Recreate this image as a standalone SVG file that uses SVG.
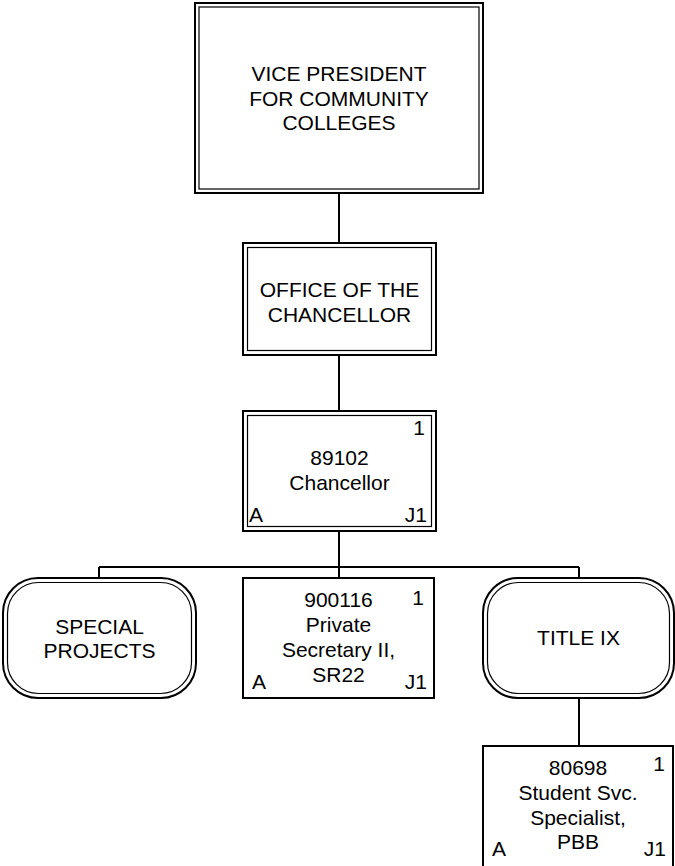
<svg xmlns="http://www.w3.org/2000/svg" width="675" height="866" viewBox="0 0 675 866">
<style>
.o{fill:none;stroke:#000;stroke-width:2}
.i{fill:none;stroke:#000;stroke-width:1.2}
.c{fill:none;stroke:#000;stroke-width:2}
text{font-family:"Liberation Sans",Arial,sans-serif;font-size:21px;fill:#000}
.m{text-anchor:middle}
.e{text-anchor:end}
</style>
<rect width="675" height="866" fill="#fff"/>
<g id="connectors">
<path class="c" d="M339,193V243M339,355V411M339,531V567M99,567H579M99,567V578M339,567V578M579,567V578M579,698V746"/>
</g>
<g id="vp">
<rect class="o" x="195" y="3" width="288" height="190"/>
<rect class="i" x="199" y="7" width="280" height="182"/>
<text class="m" x="339" y="81">VICE PRESIDENT</text>
<text class="m" x="339" y="105.5">FOR COMMUNITY</text>
<text class="m" x="339" y="130">COLLEGES</text>
</g>
<g id="office">
<rect class="o" x="243" y="243" width="193" height="112"/>
<rect class="i" x="247.5" y="247.5" width="184" height="103"/>
<text class="m" x="339.5" y="297">OFFICE OF THE</text>
<text class="m" x="339.5" y="322">CHANCELLOR</text>
</g>
<g id="chancellor">
<rect class="o" x="243" y="411" width="193" height="120"/>
<rect class="i" x="247.5" y="415.5" width="184" height="111"/>
<text class="e" x="425" y="435">1</text>
<text class="m" x="339.5" y="465">89102</text>
<text class="m" x="339.5" y="490">Chancellor</text>
<text x="249" y="522">A</text>
<text class="e" x="427" y="522">J1</text>
</g>
<g id="special">
<rect class="o" x="3" y="578" width="193" height="120" rx="35"/>
<rect class="i" x="7.5" y="582.5" width="184" height="111" rx="31"/>
<text class="m" x="99.5" y="634">SPECIAL</text>
<text class="m" x="99.5" y="658">PROJECTS</text>
</g>
<g id="secretary">
<rect class="o" x="243" y="578" width="191" height="120"/>
<text class="e" x="424" y="605">1</text>
<text class="m" x="338.5" y="607">900116</text>
<text class="m" x="338.5" y="632">Private</text>
<text class="m" x="338.5" y="657">Secretary II,</text>
<text class="m" x="338.5" y="682">SR22</text>
<text x="252" y="689">A</text>
<text class="e" x="427" y="689">J1</text>
</g>
<g id="titleix">
<rect class="o" x="483" y="578" width="191" height="120" rx="35"/>
<rect class="i" x="487.5" y="582.5" width="182" height="111" rx="31"/>
<text class="m" x="578.5" y="645">TITLE IX</text>
</g>
<g id="student">
<rect class="o" x="483" y="746" width="190" height="130"/>
<text class="e" x="665" y="771">1</text>
<text class="m" x="578" y="775">80698</text>
<text class="m" x="578" y="800">Student Svc.</text>
<text class="m" x="578" y="825">Specialist,</text>
<text class="m" x="578" y="849">PBB</text>
<text x="492" y="856">A</text>
<text class="e" x="666" y="856">J1</text>
</g>
</svg>
